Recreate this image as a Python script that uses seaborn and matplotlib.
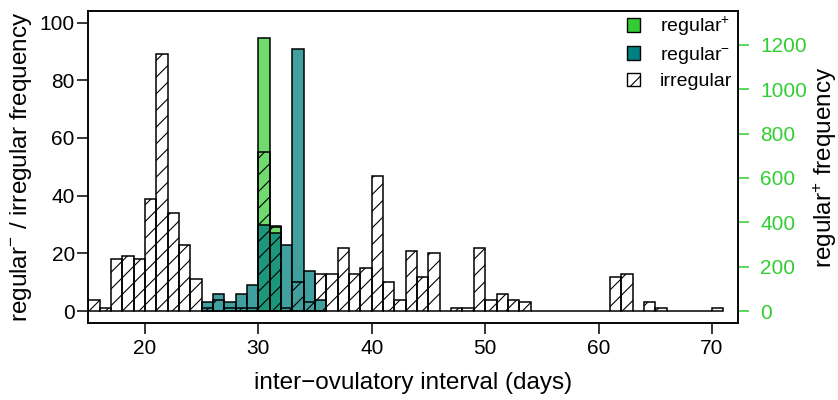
import numpy as np
import pandas as pd
import matplotlib
matplotlib.use("Agg")
import matplotlib.pyplot as plt
import seaborn as sns
from matplotlib.colors import to_rgba
from matplotlib.patches import Patch

# histogram counts per 1-day bin, bin k covers [k, k+1)
irregular_days = list(range(15, 71))
irregular_counts = [4, 1, 18, 19, 18, 39, 89, 34, 23, 11,
                    1, 4, 1, 1, 1, 55, 29, 1, 10, 3,
                    13, 13, 22, 13, 15, 47, 10, 4, 21, 12,
                    20, 0, 1, 1, 22, 4, 6, 4, 3, 0,
                    0, 0, 0, 0, 0, 0, 12, 13, 0, 3,
                    1, 0, 0, 0, 0, 1]

reg_minus_days = list(range(25, 36))
reg_minus_counts = [3, 6, 3, 6, 9, 30, 27, 23, 91, 14, 4]

reg_plus_days = [30, 31]
reg_plus_counts = [1230, 382]

legend_labels = ["regular$^{+}$", "regular$^{-}$", "irregular"]

sns.set_style("ticks")
plt.rcParams["font.family"] = ["Liberation Sans", "DejaVu Sans"]
plt.rcParams["mathtext.fontset"] = "custom"
plt.rcParams["mathtext.rm"] = "Liberation Sans"
plt.rcParams["mathtext.it"] = "Liberation Sans:italic"
plt.rcParams["axes.linewidth"] = 1.1
plt.rcParams["hatch.linewidth"] = 0.8
for key in ["text.color", "axes.labelcolor", "axes.edgecolor", "xtick.color", "ytick.color"]:
    plt.rcParams[key] = "black"

GREEN = "limegreen"
TEAL = "teal"


def counts_df(days, counts):
    # bin centres + counts, used as weights so seaborn builds the bars
    return pd.DataFrame({"day": np.asarray(days) + 0.5, "n": counts})


def hist(ax, days, counts, **kws):
    n0 = len(ax.patches)
    sns.histplot(data=counts_df(days, counts), x="day", weights="n",
                 binwidth=1, binrange=(days[0], days[-1] + 1), ax=ax, **kws)
    return ax.patches[n0:]


fig = plt.figure(figsize=(8.38, 4), dpi=100)
ax = fig.add_axes([88 / 838, 1 - 322.7 / 400, 650 / 838, 311.7 / 400])
ax2 = ax.twinx()

# regular+ on the right axis, drawn underneath the others
for p in hist(ax2, reg_plus_days, reg_plus_counts, fill=True):
    p.set_alpha(None)
    p.set_facecolor(to_rgba(GREEN, 0.7))
    p.set_edgecolor("black")
    p.set_linewidth(1.1)

for p in hist(ax, reg_minus_days, reg_minus_counts, fill=True):
    p.set_alpha(None)
    p.set_facecolor(to_rgba(TEAL, 0.75))
    p.set_edgecolor("black")
    p.set_linewidth(1.1)

for p in hist(ax, irregular_days, irregular_counts, fill=False, color="black", hatch="//"):
    p.set_linewidth(1.1)

ax.set_zorder(ax2.get_zorder() + 1)
ax.patch.set_visible(False)

ax.set_xlim(14.97, 72.3)
ax.set_ylim(-4, 104)
ax2.set_ylim(-52, 1352)
ax.set_xticks(range(20, 71, 10))
ax.set_yticks(range(0, 101, 20))
ax2.set_yticks(range(0, 1201, 200))

ax.tick_params(axis="x", direction="out", length=8, width=1.1, labelsize=15, pad=4)
ax.tick_params(axis="y", direction="out", length=8, width=1.1, labelsize=15, pad=1.5)
ax2.tick_params(axis="y", direction="out", length=8, width=1.1, labelsize=15, pad=8,
                color=GREEN, labelcolor=GREEN)
for s in ax2.spines.values():
    s.set_color("black")

ax.set_xlabel("inter\u2212ovulatory interval (days)", fontsize=17.5)
ax.set_ylabel("regular$^{-}$ / irregular frequency", fontsize=17.5)
ax2.set_ylabel("regular$^{+}$ frequency", fontsize=17.5)
ax.xaxis.set_label_coords(0.5, (322.7 - 383) / 311.7)
ax.xaxis.label.set_va("center")
ax.yaxis.set_label_coords((21 - 88) / 650, 0.5)
ax.yaxis.label.set_va("center")
ax2.yaxis.set_label_coords((825 - 88) / 650, 0.5)
ax2.yaxis.label.set_va("center")

handles = [Patch(facecolor=GREEN, edgecolor="black"),
           Patch(facecolor=TEAL, edgecolor="black"),
           Patch(facecolor="white", edgecolor="black", hatch="//")]
ax.legend(handles, legend_labels, loc="upper right", frameon=False, fontsize=14,
          handlelength=0.7, handleheight=0.7, handletextpad=1.0,
          labelspacing=0.35, borderaxespad=0.0, borderpad=0.2,
          bbox_to_anchor=(0.997, 1.0))

fig.savefig("out.png", dpi=100)
